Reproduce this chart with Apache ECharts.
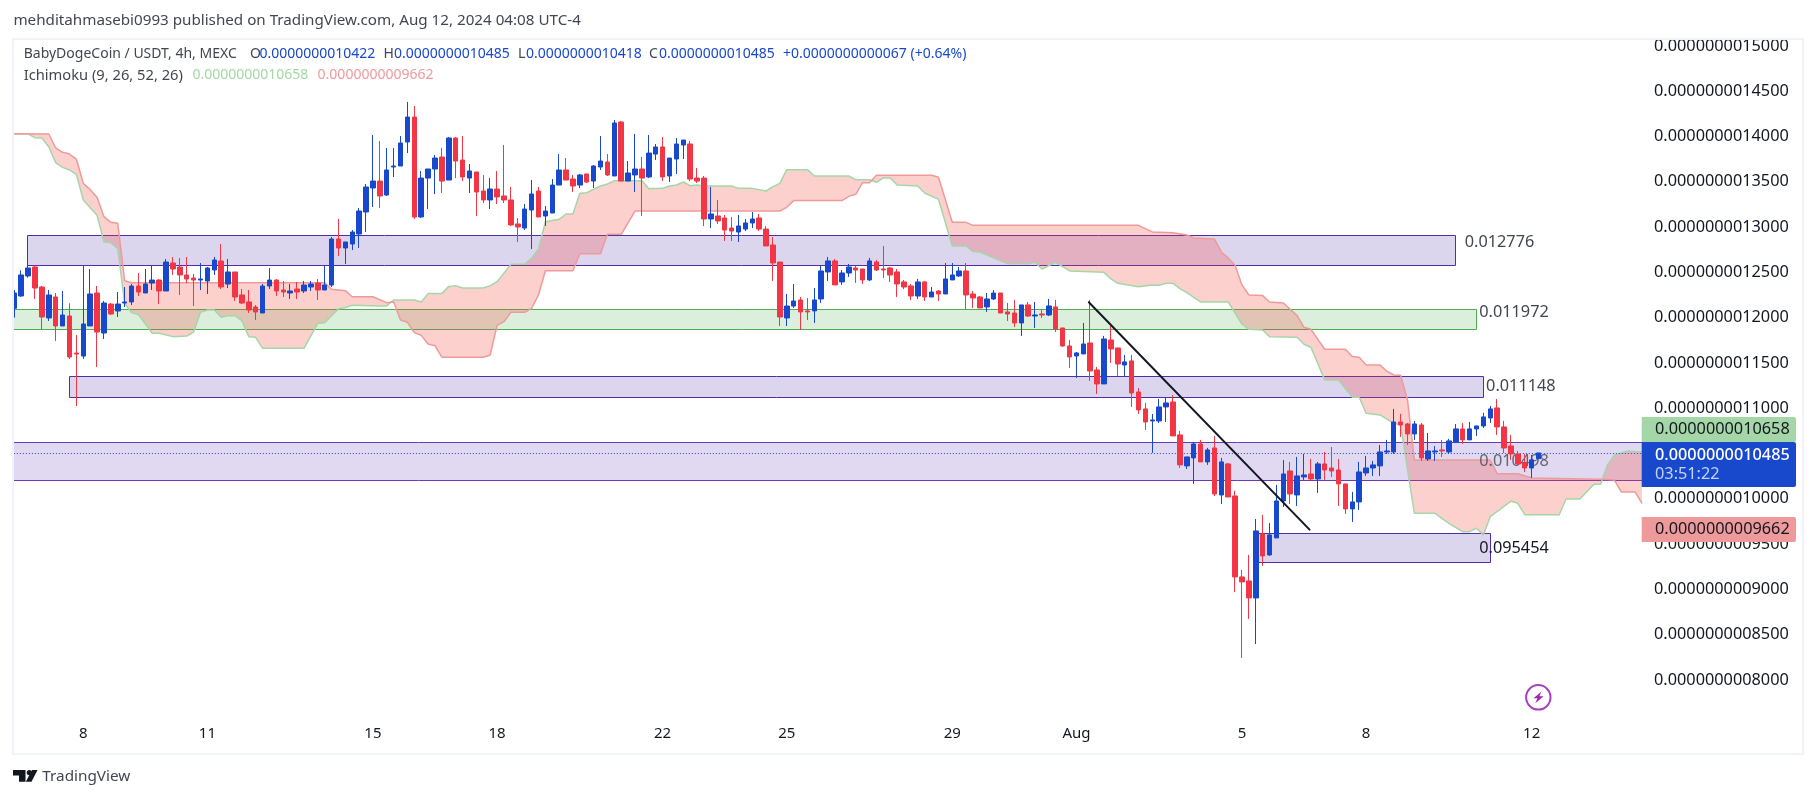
<!DOCTYPE html>
<html>
<head>
<meta charset="utf-8">
<style>html,body{margin:0;padding:0;background:#fff}#c{width:1815px;height:798px}</style>
<script src="https://cdn.jsdelivr.net/npm/echarts@6/dist/echarts.min.js"></script>
</head>
<body>
<div id="c"></div>
<script>
// Prices are in units of 1e-13 USDT, rows are [open, close, low, high]
var candlesA = [[12082,12251,11979,12284],[12218,12450,12207,12501],[12439,12527,12420,12560],[12538,12306,12185,12553],[12317,11986,11850,12328],[11975,12229,11942,12284],[12207,11887,11721,12251],[11887,12008,11887,12273],[11997,11544,11522,12137],[11588,11577,11003,11787],[11555,11909,11522,12553],[11887,12240,11887,12516],[12251,11820,11434,12328],[11809,12140,11743,12163],[12129,12019,12008,12140],[12052,12129,11986,12262],[12140,12152,12096,12317],[12152,12328,12118,12350],[12328,12262,12218,12472],[12251,12350,12251,12516],[12361,12394,12284,12549],[12394,12273,12129,12405],[12273,12593,12273,12626],[12582,12516,12450,12648],[12538,12450,12229,12637],[12450,12405,12361,12648],[12416,12394,12107,12461],[12394,12405,12284,12582],[12383,12527,12240,12538],[12505,12615,12450,12648],[12604,12317,12295,12792],[12350,12483,12306,12626],[12483,12207,12163,12483],[12229,12140,12129,12295],[12152,12063,12030,12284],[12096,12041,11953,12118],[12030,12328,12030,12350],[12328,12394,12295,12527],[12394,12273,12218,12405],[12284,12262,12207,12383],[12251,12273,12185,12350],[12295,12262,12185,12372],[12273,12339,12251,12383],[12317,12350,12273,12383],[12361,12284,12174,12405],[12284,12339,12284,12553],[12339,12847,12317,12869],[12847,12748,12659,13068],[12748,12814,12571,12814],[12792,12924,12726,12946],[12902,13156,12748,13189],[13145,13421,12924,13454],[13410,13487,13200,13995],[13487,13322,13189,13929],[13333,13609,13322,13852],[13642,13653,13532,13852],[13653,13907,13653,13984],[13918,14194,13796,14360],[14194,13090,13068,14315]];
var candlesB = [[13090,13520,13079,13598],[13520,13620,13178,13620],[13620,13741,13344,13774],[13752,13487,13355,13852],[13498,13962,13498,13973],[13962,13708,13520,13973],[13719,13532,13487,13984],[13520,13598,13355,13675],[13587,13366,13101,13587],[13377,13278,13244,13554],[13278,13399,13178,13520],[13399,13311,13233,13598],[13322,13278,13244,13885],[13278,13002,12991,13421],[13013,12980,12814,13079],[12968,13178,12946,13233],[13167,13344,12737,13498],[13377,13090,13090,13421],[13101,13156,12991,13211],[13134,13443,13134,13509],[13443,13609,13443,13785],[13609,13498,13498,13741],[13509,13432,13366,13554],[13443,13554,13410,13565],[13565,13476,13465,13565],[13487,13653,13410,13664],[13642,13708,13609,13984],[13697,13554,13543,13785],[13543,14128,13543,14161],[14139,13487,13487,14150],[13487,13576,13487,13708],[13554,13620,13366,14006],[13620,13520,13101,13752],[13532,13796,13520,13995],[13785,13863,13719,13896],[13863,13532,13487,13973],[13543,13741,13476,13741],[13730,13896,13565,13962],[13885,13940,13730,13940],[13896,13509,13487,13929],[13520,13487,13465,13631],[13520,13068,12991,13543],[13068,13123,12968,13421],[13101,13046,13013,13278],[13079,12946,12825,13112],[12968,12935,12825,13090],[12924,12991,12814,13112],[12957,13024,12935,13068],[13024,13068,12968,13145],[13079,12957,12935,13123],[12957,12770,12770,12991],[12781,12582,12383,12869],[12593,11986,11887,12593],[11975,12107,11887,12240],[12107,12163,12085,12350]];
var candlesC = [[12174,12042,11843,12207],[12053,12042,11953,12196],[12053,12174,11920,12306],[12185,12494,12141,12549],[12483,12605,12384,12649],[12605,12340,12340,12627],[12373,12472,12340,12505],[12472,12538,12428,12571],[12527,12505,12362,12549],[12516,12395,12351,12516],[12395,12605,12384,12638],[12594,12505,12494,12616],[12516,12505,12417,12770],[12527,12450,12373,12538],[12483,12351,12207,12516],[12373,12317,12295,12395],[12329,12218,12174,12351],[12218,12373,12185,12406],[12373,12207,12163,12384],[12207,12262,12207,12317],[12273,12240,12163,12284],[12240,12406,12240,12582],[12395,12450,12395,12582],[12439,12494,12428,12538],[12494,12229,12075,12582],[12240,12196,12086,12273],[12207,12086,12086,12218],[12097,12185,12042,12251],[12185,12251,12174,12284],[12251,12030,12030,12251],[12042,12019,11942,12141],[12030,11920,11876,12174],[11920,12119,11777,12119],[12119,11997,11986,12152],[11997,12008,11865,12152],[12019,12008,11975,12064],[12008,12108,11997,12185],[12097,11854,11821,12174],[11865,11666,11655,11865],[11666,11545,11423,11732],[11556,11589,11313,11600],[11578,11688,11578,11920],[11699,11390,11280,12174],[11401,11247,11136,11434],[11247,11743,11247,11777],[11732,11633,11478,11909],[11644,11467,11335,11644],[11456,11490,11335,11567],[11501,11147,10993,11567],[11158,10960,10915,11202],[10971,10827,10739,11037],[10838,10849,10485,10915],[10838,10993,10816,11081],[10993,11037,10827,11092],[11048,10673,10673,11125]];
var candlesD = [[10684,10353,10319,10728],[10342,10441,10308,10441],[10430,10584,10143,10606],[10584,10386,10386,10629],[10386,10518,10353,10540],[10540,10032,10010,10673],[10021,10386,9922,10430],[10364,9999,9999,10375],[10010,9116,8950,10066],[9116,9061,8222,9193],[9072,8884,8652,9359],[8884,9624,8376,9756],[9591,9348,9238,9801],[9359,9580,9348,9712],[9547,9955,9547,10132],[9955,10253,9889,10408],[10286,10032,9922,10386],[10021,10231,9900,10441],[10220,10242,10187,10474],[10253,10198,10187,10419],[10198,10364,10043,10386],[10364,10297,10187,10496],[10319,10286,10220,10551],[10297,10143,9900,10419],[10143,9867,9812,10143],[9867,9944,9723,10055],[9944,10275,9856,10386],[10264,10319,10231,10452],[10319,10353,10231,10397],[10342,10496,10231,10573],[10496,10507,10474,10629],[10496,10827,10474,10971],[10827,10794,10662,10916],[10805,10695,10573,10816],[10695,10805,10629,10838],[10794,10430,10397,10816],[10419,10507,10397,10706],[10496,10507,10397,10562],[10518,10507,10441,10629],[10496,10618,10474,10640],[10606,10750,10606,10805],[10750,10629,10584,10816],[10629,10750,10629,10827],[10750,10783,10673,10783],[10783,10883,10761,10927],[10871,10971,10816,11004],[10982,10772,10684,11081],[10772,10540,10485,10838],[10562,10474,10408,10684],[10474,10363,10341,10507],[10374,10319,10275,10474],[10319,10408,10209,10463],[10422,10485,10418,10485]];

// Ichimoku leading spans: [candle index, price] at each break of the line
var spanA = [[0,14006],[2,14006],[3,13966],[4,13962],[5,13866],[6,13690],[7,13638],[8,13609],[9,13561],[10,13278],[12,13108],[13,12814],[14,12807],[15,12740],[16,12137],[17,12034],[18,12012],[20,11806],[21,11806],[23,11769],[25,11776],[26,11820],[27,12037],[28,12063],[29,12063],[30,11982],[31,12001],[32,12001],[33,11945],[34,11769],[35,11761],[36,11640],[42,11640],[44,11916],[45,11923],[47,12078],[48,12089],[49,12115],[53,12107],[54,12107],[55,12174],[58,12174],[59,12151],[60,12244],[62,12244],[63,12324],[64,12332],[65,12306],[68,12306],[69,12332],[70,12376],[72,12567],[74,12567],[75,12634],[76,12733],[77,13038],[79,13064],[80,13123],[81,13123],[82,13351],[83,13359],[85,13432],[86,13454],[87,13491],[91,13491],[92,13403],[94,13406],[95,13432],[96,13443],[97,13476],[98,13436],[99,13443],[100,13432],[104,13432],[105,13406],[107,13406],[109,13377],[110,13425],[111,13462],[112,13613],[115,13613],[116,13543],[121,13543],[122,13502],[124,13502],[125,13473],[126,13521],[127,13521],[128,13444],[131,13433],[132,13355],[134,13285],[136,12770],[138,12770],[139,12708],[140,12704],[144,12575],[147,12575],[148,12590],[149,12516],[151,12590],[153,12494],[158,12479],[159,12406],[160,12358],[163,12321],[165,12340],[166,12336],[167,12358],[168,12358],[169,12299],[170,12255],[172,12152],[176,12152],[178,11906],[179,11850],[181,11843],[182,11769],[186,11762],[187,11685],[188,11652],[190,11291],[192,11291],[194,11100],[195,11100],[196,10923],[198,10905],[200,10813],[201,10794],[203,9818],[206,9818],[208,9708],[210,9616],[211,9616],[212,9653],[213,9579],[214,9781],[217,9954],[218,9929],[219,9803],[224,9803],[225,9976],[227,9976],[229,10138],[230,10138],[231,10352],[232,10462],[234,10506],[236,10492]];
var spanB = [[0,14010],[5,14006],[6,13852],[7,13804],[8,13785],[9,13730],[10,13462],[11,13392],[12,13307],[13,13094],[14,13031],[15,13020],[16,12387],[17,12365],[45,12365],[46,12291],[48,12277],[49,12210],[52,12210],[54,12144],[55,12152],[56,11953],[57,11927],[58,11813],[59,11783],[60,11688],[61,11669],[62,11541],[68,11541],[69,11566],[70,11894],[71,11934],[72,12037],[74,12037],[75,12082],[76,12229],[77,12497],[81,12497],[82,12685],[85,12685],[86,12899],[88,12899],[90,13156],[111,13156],[112,13197],[113,13271],[120,13271],[121,13318],[122,13341],[123,13469],[124,13469],[125,13550],[133,13550],[134,13528],[136,13031],[138,13031],[139,12998],[163,12998],[165,12925],[168,12917],[170,12892],[171,12859],[174,12848],[175,12704],[176,12638],[177,12557],[178,12340],[179,12229],[181,12222],[182,12152],[184,12141],[186,12001],[187,11872],[188,11850],[190,11630],[193,11630],[194,11549],[195,11541],[196,11457],[198,11457],[199,11387],[200,11346],[201,11342],[202,11070],[203,10407],[214,10407],[215,10256],[218,10256],[220,10208],[230,10194],[232,10186],[233,10054],[235,10054],[236,9929]];

// Horizontal zones drawn on the chart
var zoneStarts = [1.85, -2, 8, -2, 180];
var zoneEnds = [208.93, 212, 213, 240, 214];
var zoneTops = [12888, 12079, 11335, 10602, 9598];
var zoneBottoms = [12557, 11850, 11100, 10183, 9278];
var zoneLabels = ['0.012776', '0.011972', '0.011148', '0.010498', '0.095454'];
var zoneLabelIdx = [210.3, 212.4, 213.4, 212.4, 212.4];
var zoneLabelPrice = [12814, 12035, 11224, 10389, 9428];

// Trend line: candle index, price
var trendFrom = [155.8, 12148];
var trendTo = [187.8, 9638];

// Last price and indicator values
var lastPrice = 10485;
var countdown = '03:51:22';
var spanALast = 10658;
var spanBLast = 9662;

// Time axis: candle index -> label
var dateTicks = {10:'8', 28:'11', 52:'15', 70:'18', 94:'22', 112:'25', 136:'29', 154:'Aug', 178:'5', 196:'8', 220:'12'};
var slotCount = 237;
var priceInterval = 500, priceMin = 7500, priceMax = 15000;

function fmtTick(v){ return '0.00000000' + (v<10000?'0':'') + v; }

var FONT = '"Noto Sans", sans-serif';
var TEXT = '#131722';
var GREY = '#434651';
var BLUE = '#1848CC';
var RED = '#F23645';

var categories = [];
for (var i=0;i<slotCount;i++) categories.push(dateTicks[i]||'');
var candles = candlesA.concat(candlesB, candlesC, candlesD);

var zoneStyles = [
 {fill:'rgba(81,45,168,0.2)', stroke:'#512DA8'},
 {fill:'rgba(76,175,80,0.2)', stroke:'#4CAF50'},
 {fill:'rgba(81,45,168,0.2)', stroke:'#512DA8'},
 {fill:'rgba(103,58,183,0.2)', stroke:'#673AB7'},
 {fill:'rgba(81,45,168,0.2)', stroke:'#512DA8'}
];
var zoneLabelColors = [GREY, GREY, GREY, 'rgba(67,70,81,0.8)', '#131722'];

function xOf(api, idx){
  var a = api.coord([0, priceMin])[0], b = api.coord([1, priceMin])[0];
  return a + (b-a)*idx;
}
function yOf(api, v){ return api.coord([0, v])[1]; }

function renderZone(params, api){
  var k = params.dataIndex, s = zoneStyles[k];
  var x0 = xOf(api, zoneStarts[k]), x1 = xOf(api, zoneEnds[k]);
  var y0 = Math.round(yOf(api, zoneTops[k]))+0.5, y1 = Math.round(yOf(api, zoneBottoms[k]))+0.5;
  x0 = Math.round(x0)+0.5; x1 = Math.round(x1)+0.5;
  return {type:'rect', shape:{x:x0,y:y0,width:x1-x0,height:y1-y0}, style:{fill:s.fill, stroke:s.stroke, lineWidth:1}};
}
function renderZoneLabel(params, api){
  var k = params.dataIndex;
  return {type:'text', x:xOf(api, zoneLabelIdx[k]), y:yOf(api, zoneLabelPrice[k]),
    style:{text:zoneLabels[k], fill:zoneLabelColors[k], font:'16.3px '+FONT, align:'left', verticalAlign:'middle'}};
}
function renderCloud(params, api){
  var pts = [];
  spanA.forEach(function(p){ pts.push(api.coord(p)); });
  spanB.slice().reverse().forEach(function(p){ pts.push(api.coord(p)); });
  return {type:'polygon', shape:{points:pts}, style:{fill:'rgba(244,67,54,0.25)'}};
}
function renderTrend(params, api){
  return {type:'line', shape:{x1:xOf(api,trendFrom[0]), y1:yOf(api,trendFrom[1]), x2:xOf(api,trendTo[0]), y2:yOf(api,trendTo[1])},
    style:{stroke:'#131722', lineWidth:2, lineCap:'round'}};
}
var tagRows = [
 {value:spanALast, bg:'#A5D6A7', fg:TEXT, shift:-20, h:25},
 {value:lastPrice, bg:BLUE, fg:'#ffffff', shift:-11, h:45, sub:countdown, weight:'500 '},
 {value:spanBLast, bg:'#EF9A9A', fg:TEXT, shift:-10.5, h:25}
];
function renderTag(params, api){
  var t = tagRows[params.dataIndex];
  var y = Math.round(yOf(api, t.value) + t.shift);
  var children = [
    {type:'rect', shape:{x:1641.7,y:y,width:154.3,height:t.h,r:[0,2,2,0]}, style:{fill:t.bg}},
    {type:'text', x:1655, y:y+(t.sub?13:12.5), style:{text:fmtTick(t.value), fill:t.fg, font:(t.weight||'')+'16.3px '+FONT, align:'left', verticalAlign:'middle'}}
  ];
  if (t.sub) children.push({type:'text', x:1655, y:y+32, style:{text:t.sub, fill:'#c6d2f3', font:'16.3px '+FONT, align:'left', verticalAlign:'middle'}});
  return {type:'group', children:children};
}

var legendPieces = [
 ['mehditahmasebi0993 published on TradingView.com, Aug 12, 2024 04:08 UTC-4', 13.4, 21, GREY, 15.2],
 ['BabyDogeCoin / USDT, 4h, MEXC', 23.7, 54.5, GREY, 14],
 ['O', 250, 54.5, GREY, 14], ['0.0000000010422', 259.5, 54.5, BLUE, 14],
 ['H', 383.5, 54.5, GREY, 14], ['0.0000000010485', 394, 54.5, BLUE, 14],
 ['L', 518, 54.5, GREY, 14], ['0.0000000010418', 526, 54.5, BLUE, 14],
 ['C', 649, 54.5, GREY, 14], ['0.0000000010485', 659, 54.5, BLUE, 14],
 ['+0.0000000000067 (+0.64%)', 783, 54.5, BLUE, 14],
 ['Ichimoku (9, 26, 52, 26)', 23.7, 75.5, GREY, 14.7],
 ['0.0000000010658', 192.5, 75.5, '#A5D6A7', 14],
 ['0.0000000009662', 317.6, 75.5, '#EF9A9A', 14]
];
var graphics = legendPieces.map(function(p){
  return {type:'text', x:p[1], y:p[2], z:30, silent:true, style:{text:p[0], fill:p[3], font:p[4]+'px '+FONT, align:'left', verticalAlign:'middle'}};
});
graphics.push(
 {type:'rect', z:28, silent:true, shape:{x:0,y:40,width:12,height:714}, style:{fill:'#ffffff'}},
 {type:'rect', z:29, silent:true, shape:{x:13,y:39,width:1790,height:715}, style:{fill:'transparent', stroke:'#f0f3fa', lineWidth:2}},
 {type:'circle', z:30, silent:true, shape:{cx:1538.3,cy:697.3,r:12.2}, style:{fill:'transparent', stroke:'#A63FBF', lineWidth:2}},
 {type:'polygon', z:30, silent:true, shape:{points:[[1541.5,691.5],[1533.5,698.2],[1537.5,698.2],[1535.3,703.2],[1543.5,696.2],[1539.3,696.2]]}, style:{fill:'#9C27B0'}},
 {type:'polygon', z:30, silent:true, shape:{points:[[13,770],[25.5,770],[25.5,781.7],[19,781.7],[19,775.5],[13,775.5]]}, style:{fill:'#131722'}},
 {type:'circle', z:30, silent:true, shape:{cx:29.3,cy:772.6,r:2.6}, style:{fill:'#131722'}},
 {type:'polygon', z:30, silent:true, shape:{points:[[32,770],[37.5,770],[31.5,781.7],[25.8,781.7]]}, style:{fill:'#131722'}},
 {type:'text', x:42.3, y:776.7, z:30, silent:true, style:{text:'TradingView', fill:GREY, font:'15.3px '+FONT, align:'left', verticalAlign:'middle'}}
);

var chart = echarts.init(document.getElementById('c'), null, {renderer:'canvas'});
chart.setOption({
  animation:false,
  backgroundColor:'#ffffff',
  grid:{left:10.85, top:44, width:6.897*slotCount, height:679.3, containLabel:false},
  xAxis:{type:'category', data:categories, boundaryGap:true,
    axisLine:{show:false}, axisTick:{show:false}, splitLine:{show:false},
    axisLabel:{interval:0, hideOverlap:false, color:TEXT, fontFamily:FONT, fontSize:15, margin:3}},
  yAxis:{type:'value', position:'right', min:priceMin, max:priceMax, interval:priceInterval, scale:true,
    axisLine:{show:false}, axisTick:{show:false}, splitLine:{show:false},
    axisLabel:{color:TEXT, fontFamily:FONT, fontSize:16.3, margin:8.6, align:'left', verticalAlign:'top', lineHeight:4, showMinLabel:false, formatter:fmtTick}},
  graphic:{elements:graphics},
  series:[
    {type:'custom', name:'Zones', z:1, clip:true, silent:true, renderItem:renderZone, data:zoneLabels.map(function(_,i){return [i];}), encode:{}},
    {type:'custom', name:'Cloud', z:2, clip:true, silent:true, renderItem:renderCloud, data:[[0]], encode:{}},
    {type:'line', name:'Leading span A', z:3, data:spanA, showSymbol:false, symbol:'none', silent:true, clip:true,
      lineStyle:{color:'#A5D6A7', width:1.5}},
    {type:'line', name:'Leading span B', z:3, data:spanB, showSymbol:false, symbol:'none', silent:true, clip:true,
      lineStyle:{color:'#EF9A9A', width:1.5}},
    {type:'custom', name:'Zone labels', z:4, clip:false, silent:true, renderItem:renderZoneLabel, data:zoneLabels.map(function(_,i){return [i];}), encode:{}},
    {type:'candlestick', name:'BabyDogeCoin / USDT', z:5, data:candles, barWidth:5, silent:true, large:false,
      itemStyle:{color:BLUE, color0:RED, borderColor:BLUE, borderColor0:RED, borderWidth:1},
      markLine:{silent:true, symbol:'none', label:{show:false}, animation:false,
        lineStyle:{color:BLUE, type:[1,2], width:1}, data:[{yAxis:lastPrice}]}},
    {type:'custom', name:'Trend line', z:7, clip:false, silent:true, renderItem:renderTrend, data:[[0]], encode:{}},
    {type:'custom', name:'Price tags', z:20, clip:false, silent:true, renderItem:renderTag, data:tagRows.map(function(_,i){return [i];}), encode:{}}
  ]
});
</script>
</body>
</html>
